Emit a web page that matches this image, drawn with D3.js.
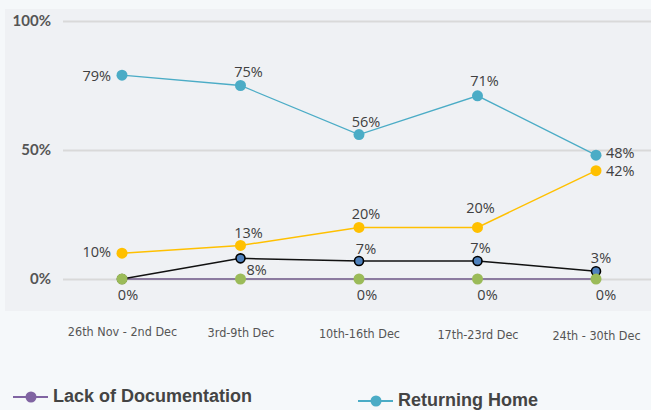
<!DOCTYPE html>
<html>
<head>
<meta charset="utf-8">
<script src="https://cdn.jsdelivr.net/npm/d3@7"></script>
<style>
  body { margin: 0; background: #f5f8fa; }
  svg { display: block; }
</style>
</head>
<body>
<div id="chart"></div>
<script>
// Data
const weeks = ["26th Nov - 2nd Dec", "3rd-9th Dec", "10th-16th Dec", "17th-23rd Dec", "24th - 30th Dec"];
const returningHome = [79, 75, 56, 71, 48];
const otherReason = [10, 13, 20, 20, 42];
const thirdReason = [0, 8, 7, 7, 3];
const fourthReason = [0, 0, 0, 0, 0];
const lackOfDocumentation = [0, 0, 0, 0, 0];
const yTicks = [0, 50, 100];
const legendItems = ["Lack of Documentation", "Returning Home"];

const width = 651, height = 410;
const labelFont = "'Open Sans', sans-serif";

const svg = d3.select("#chart")
    .append("svg")
    .attr("width", width)
    .attr("height", height);

// plot panel
svg.append("rect")
    .attr("x", 5).attr("y", 9)
    .attr("width", width - 5).attr("height", 302)
    .attr("fill", "#eff1f4");

const x = d3.scalePoint().domain(weeks).range([122, 596]);
const y = d3.scaleLinear().domain([0, 100]).range([279, 21]);

// gridlines + y labels
const yAxis = svg.append("g")
    .attr("transform", "translate(63,0)")
    .call(d3.axisLeft(y).tickValues(yTicks).tickSize(-(width - 63)).tickFormat(d => d + "%").tickPadding(12));
yAxis.select(".domain").remove();
yAxis.selectAll("line").attr("stroke", "#d9d9d9").attr("stroke-width", 2);
yAxis.selectAll("text")
    .attr("fill", "#555")
    .style("font-family", "Lato, 'Open Sans', sans-serif")
    .style("font-size", "15px")
    .style("font-weight", "bold");

// x labels
const xAxis = svg.append("g")
    .attr("transform", "translate(0,322)")
    .call(d3.axisBottom(x).tickSize(0));
xAxis.select(".domain").remove();
xAxis.selectAll("text")
    .attr("fill", "#555")
    .attr("dy", (d, i) => (0.85 + i * 0.08) + "em")
    .style("font-family", "'DejaVu Sans Condensed', 'Liberation Sans', sans-serif")
    .style("font-size", "12.5px")
    .style("font-stretch", "condensed");

const line = d3.line()
    .x((d, i) => x(weeks[i]))
    .y(d => y(d));

function drawLine(values, color, w) {
    svg.append("path")
        .datum(values)
        .attr("fill", "none")
        .attr("stroke", color)
        .attr("stroke-width", w)
        .attr("d", line);
}

function drawDots(values, fill, r, stroke) {
    svg.append("g").selectAll("circle")
        .data(values)
        .enter().append("circle")
        .attr("cx", (d, i) => x(weeks[i]))
        .attr("cy", d => y(d))
        .attr("r", r)
        .attr("fill", fill)
        .attr("stroke", stroke || "none")
        .attr("stroke-width", stroke ? 1.6 : 0);
}

// label placement per point: [dx, dy, anchor], null = no label
function drawLabels(values, place) {
    const items = values.map((v, i) => ({v, i, p: place[i]})).filter(d => d.p);
    svg.append("g").selectAll("text")
        .data(items)
        .enter().append("text")
        .attr("x", d => x(weeks[d.i]) + d.p[0])
        .attr("y", d => y(d.v) + d.p[1])
        .attr("text-anchor", d => d.p[2])
        .attr("fill", "#404040")
        .style("font-family", labelFont)
        .style("font-size", "14.5px")
        .text(d => d.v + "%");
}

drawLine(lackOfDocumentation, "#8c7ba0", 2);
drawLine(returningHome, "#4bacc6", 1.3);
drawLine(otherReason, "#ffc000", 1.5);
drawLine(thirdReason, "#111", 1.5);

drawDots(returningHome, "#4bacc6", 5.5);
drawDots(otherReason, "#ffc000", 5.5);
drawDots(thirdReason, "#4f81bd", 4.5, "#000");
drawDots(fourthReason, "#9bbb59", 5.5);

drawLabels(returningHome, [[-11, 6, "end"], [8, -9, "middle"], [7, -8, "middle"], [7, -10, "middle"], [10, 3, "start"]]);
drawLabels(otherReason, [[-11, 4, "end"], [8, -7, "middle"], [7, -8, "middle"], [3, -14, "middle"], [10, 5, "start"]]);
drawLabels(thirdReason, [null, [6, 17, "start"], [7, -7, "middle"], [3, -8, "middle"], [5, -8, "middle"]]);
drawLabels(fourthReason, [[6, 21, "middle"], null, [8, 21, "middle"], [10, 21, "middle"], [10, 21, "middle"]]);

// legend
const legendColors = ["#8064a2", "#4bacc6"];
const legendPos = [[13, 397], [358, 401]];
const legend = svg.selectAll(".legend")
    .data(legendItems)
    .enter().append("g")
    .attr("class", "legend")
    .attr("transform", (d, i) => `translate(${legendPos[i][0]},${legendPos[i][1]})`);

legend.append("line")
    .attr("x1", 0).attr("x2", 35)
    .attr("stroke", (d, i) => legendColors[i])
    .attr("stroke-width", 2);

legend.append("circle")
    .attr("cx", 18).attr("r", 5.5)
    .attr("fill", (d, i) => legendColors[i]);

legend.append("text")
    .attr("x", 40)
    .attr("dy", "0.3em")
    .attr("fill", "#444")
    .style("font-family", "'Liberation Sans', Arial, sans-serif")
    .style("font-size", "18px")
    .style("font-weight", "bold")
    .text(d => d);
</script>
</body>
</html>
